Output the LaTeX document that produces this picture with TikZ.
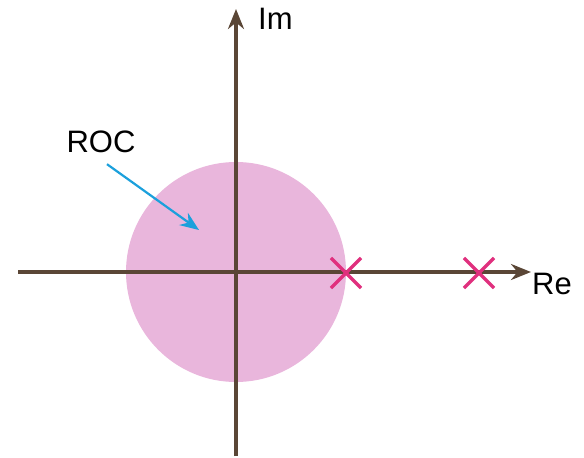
\documentclass[tikz,border=0pt]{standalone}
\usepackage{fontspec}
\setmainfont{Liberation Sans}
\usepackage{xcolor}
\usetikzlibrary{positioning,arrows.meta,shapes.misc}
\definecolor{axisbrown}{HTML}{5A4636}
\definecolor{rocpink}{HTML}{E9B6DC}
\definecolor{polemag}{HTML}{E0307E}
\definecolor{arrowcyan}{HTML}{1BA0DC}

\begin{document}
\begin{tikzpicture}[x=1pt, y=-1pt, >={Stealth[length=20pt,width=16pt]}]
\useasboundingbox (0,0) rectangle (584,458);
\tikzset{lbl/.style={font=\fontsize{31}{33}\selectfont, inner sep=0pt},
  pole/.style={cross out, draw=polemag, line width=3.2pt, minimum size=27pt, inner sep=0pt}}
% region of convergence
\node[circle, fill=rocpink, minimum size=220pt, inner sep=0pt] (roc) at (236,272) {};
% axes
\coordinate (o) at (236,272);
\coordinate (xl) at (18,272);
\coordinate (xr) at (531,272);
\coordinate (yb) at (236,456);
\coordinate (yt) at (236,9);
\draw[->, axisbrown, line width=3.2pt] (xl) -- (xr);
\draw[->, axisbrown, line width=3.2pt] (yb) -- (yt);
\node[lbl, anchor=west] (re) at (532,284) {Re};
\node[lbl, anchor=west] (im) at (258,19) {Im};
% poles
\node[pole] (p1) at (346,273) {};
\node[pole] (p2) at (479,273) {};
% label
\node[lbl] (roclbl) at (101,142) {ROC};
\coordinate (rocpt) at (199,230);
\draw[->, arrowcyan, line width=2.2pt, >={Stealth[length=19pt,width=15pt]}] (roclbl.south) ++(6,11) -- (rocpt);
\end{tikzpicture}
\end{document}
